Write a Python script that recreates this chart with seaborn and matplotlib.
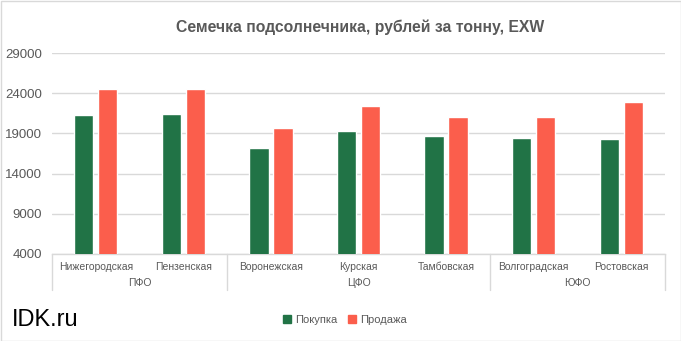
import matplotlib
matplotlib.use("Agg")
import matplotlib.pyplot as plt
import matplotlib.patches as mpatches
import matplotlib.transforms as mtransforms
import seaborn as sns
import pandas as pd

regions = ["Нижегородская", "Пензенская", "Воронежская", "Курская", "Тамбовская", "Волгоградская", "Ростовская"]
districts = ["ПФО", "ПФО", "ЦФО", "ЦФО", "ЦФО", "ЮФО", "ЮФО"]
buy = [21300, 21400, 17200, 19300, 18700, 18400, 18300]
sell = [24500, 24500, 19700, 22400, 21000, 21000, 22900]
series_names = ["Покупка", "Продажа"]
yticks = [4000, 9000, 14000, 19000, 24000, 29000]
title = "Семечка подсолнечника, рублей за тонну, EXW"
brand = "IDK.ru"

df = pd.DataFrame({
    "region": regions * 2,
    "series": [series_names[0]] * len(regions) + [series_names[1]] * len(regions),
    "value": buy + sell,
})

sns.set_theme(style="white")
plt.rcParams["font.family"] = ["Liberation Sans", "DejaVu Sans"]

GREY = "#595959"
LINE = "#D9D9D9"
palette = {series_names[0]: "#217346", series_names[1]: "#FB5E4C"}

L, R, B, T = 52, 665, 254, 53
fig = plt.figure(figsize=(6.81, 3.41), dpi=100)
ax = fig.add_axes([L / 681, 1 - B / 341, (R - L) / 681, (B - T) / 341])
H = B - T

sns.barplot(data=df, x="region", y="value", hue="series", order=regions,
            hue_order=series_names, palette=palette, width=0.55, gap=0.2,
            saturation=1, legend=False, ax=ax, zorder=3)

ax.set_ylim(4000, 29000)
ax.set_xlim(-0.5, len(regions) - 0.5)
ax.set_yticks(yticks)
ax.set_yticklabels([str(t) for t in yticks], fontsize=9.5, color=GREY)
ax.yaxis.grid(True, color=LINE, linewidth=1, zorder=0)
ax.set_axisbelow(True)
ax.set_xlabel("")
ax.set_ylabel("")
for s in ["top", "right", "left"]:
    ax.spines[s].set_visible(False)
ax.spines["bottom"].set_color(LINE)
ax.spines["bottom"].set_linewidth(1)
ax.tick_params(axis="both", length=0)
ax.tick_params(axis="x", pad=5.5, labelsize=7.5, labelcolor=GREY)
ax.tick_params(axis="y", pad=7)

trans = mtransforms.blended_transform_factory(ax.transData, ax.transAxes)
bounds = [-0.5]
groups = []
for i, d in enumerate(districts):
    if i == 0 or d != districts[i - 1]:
        groups.append([d, i, i])
    else:
        groups[-1][2] = i
for g in groups:
    bounds.append(g[2] + 0.5)
for b in bounds:
    ax.plot([b, b], [0, -36 / H], transform=trans, color=LINE, linewidth=1,
            clip_on=False, zorder=1)
for name, a, b in groups:
    ax.text((a + b) / 2, -29 / H, name, transform=trans, ha="center", va="center",
            fontsize=7.5, color=GREY)

fig.text(360 / 681, 1 - 27 / 341, title, ha="center", va="center",
         fontsize=11.3, fontweight="bold", color=GREY)
fig.text(12 / 681, 1 - 320 / 341, brand, ha="left", va="center",
         fontsize=17, color="black")

handles = [mpatches.Patch(color=palette[n], label=n) for n in series_names]
fig.legend(handles=handles, loc="center", bbox_to_anchor=(345 / 681, 1 - 320 / 341),
           ncol=2, frameon=False, fontsize=8, handlelength=0.7, handleheight=0.7,
           handletextpad=0.4, columnspacing=1.0, labelcolor=GREY)

fig.patches.append(mpatches.Rectangle((0.5 / 681, 0.5 / 341), 1 - 1 / 681, 1 - 1 / 341,
                                      transform=fig.transFigure, fill=False,
                                      edgecolor=LINE, linewidth=1))

fig.savefig("out.png", dpi=100)
